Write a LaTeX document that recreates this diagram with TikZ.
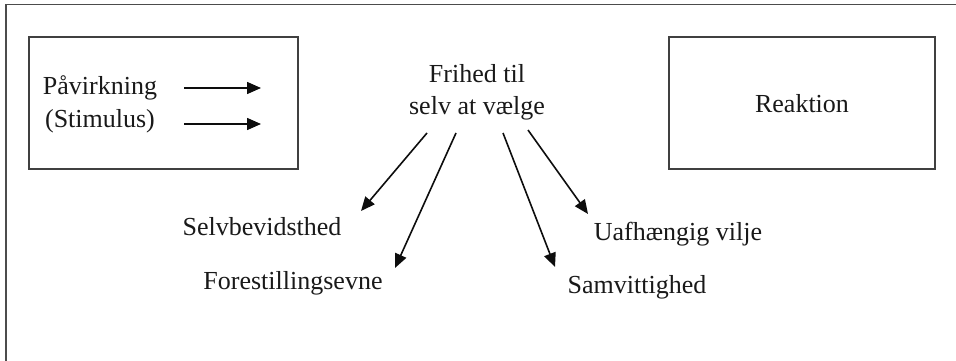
\documentclass[tikz,border=0pt]{standalone}
\usepackage{fontspec}
\setmainfont{Liberation Serif}
\usetikzlibrary{arrows.meta}
\begin{document}
\begin{tikzpicture}[x=1pt,y=-1pt,
  txt/.style={inner sep=0pt, anchor=base, text=black!90,
    font=\fontsize{26}{32}\selectfont},
  box/.style={draw=black!75, line width=1.6pt, inner sep=0pt},
  frameline/.style={draw=black!70, line width=1.6pt},
  arr/.style={draw=black!95, line width=1.6pt,
    -{Triangle[length=14pt,width=12pt]}}]
\useasboundingbox (0,0) rectangle (956,361);

% open frame: top and left edges only
\draw[frameline] (6,361) -- (6,4.5) -- (956,4.5);

% stimulus box with its two arrows
\node[box, minimum width=269pt, minimum height=132pt] (stimbox) at (163.5,103) {};
\node[txt] (pav) at (100,94) {Påvirkning};
\node[txt] (stim) at (100,127) {(Stimulus)};
\coordinate (a1s) at (184,88);  \coordinate (a1e) at (261,88);
\coordinate (a2s) at (184,124); \coordinate (a2e) at (261,124);
\draw[arr] (a1s) -- (a1e);
\draw[arr] (a2s) -- (a2e);

% reaction box
\node[box, minimum width=266pt, minimum height=132pt] (reakbox) at (802,103) {};
\node[txt] (reak) at (802,112) {Reaktion};

% freedom of choice and its four branches
\node[txt] (fri1) at (477,83) {Frihed til};
\node[txt] (fri2) at (477,114) {selv at vælge};

\node[txt] (selv) at (262,235) {Selvbevidsthed};
\node[txt] (fore) at (293,289) {Forestillingsevne};
\node[txt] (uaf)  at (678,240) {Uafhængig vilje};
\node[txt] (samv) at (637,293) {Samvittighed};

\coordinate (s1) at (427,133); \coordinate (e1) at (361,211);
\coordinate (s2) at (456,133); \coordinate (e2) at (395,268);
\coordinate (s3) at (503,133); \coordinate (e3) at (555,267);
\coordinate (s4) at (528,130); \coordinate (e4) at (588,214);
\draw[arr] (s1) -- (e1);
\draw[arr] (s2) -- (e2);
\draw[arr] (s3) -- (e3);
\draw[arr] (s4) -- (e4);
\end{tikzpicture}
\end{document}
